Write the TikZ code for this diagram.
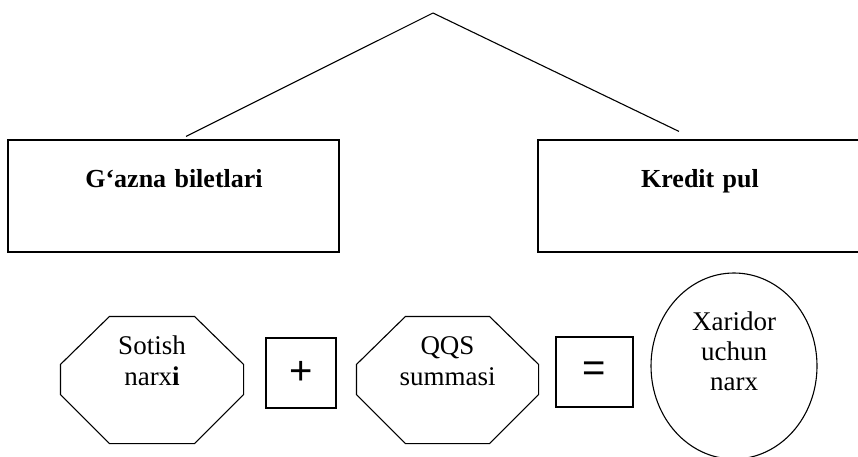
\documentclass[tikz,border=0pt]{standalone}
\usepackage{fontspec}
\setmainfont{Liberation Serif}
\newfontfamily\signfont{Liberation Sans}
\usetikzlibrary{shapes.geometric}

\begin{document}
\begin{tikzpicture}[x=1pt,y=-1pt,line width=1.1pt]
  \clip (0,0) rectangle (858,457);
  \coordinate (top) at (433,13);
  \node[draw, minimum width=331pt, minimum height=112pt] (g) at (173.5,196) {};
  \node[font=\fontsize{26}{30}\selectfont\bfseries, anchor=base] (gt) at (174,187) {G‘azna\hspace{0.32em}biletlari};
  \node[draw, minimum width=324pt, minimum height=112pt] (k) at (700,196) {};
  \node[font=\fontsize{26}{30}\selectfont\bfseries, anchor=base] (kt) at (700,187) {Kredit\hspace{0.32em}pul};

  \draw (top) -- ([xshift=12.5pt,yshift=3pt]g.north);
  \draw (top) -- ([xshift=-21pt,yshift=8pt]k.north);

  \node[minimum width=182pt, minimum height=126pt, inner sep=0pt] (s) at (152,380) {};
  \node[align=center, font=\fontsize{27}{31}\selectfont] (st) at (152,361) {Sotish\\narx\textbf{i}};
  \node[draw, minimum size=70pt, font=\signfont\fontsize{40}{40}\selectfont] (p) at (301,373) {+};
  \node[minimum width=181pt, minimum height=126pt, inner sep=0pt] (q) at (447.5,380) {};
  \node[align=center, font=\fontsize{27}{31}\selectfont] (qt) at (447.5,361) {QQS\\summasi};
  \node[draw, minimum width=77pt, minimum height=70pt, font=\signfont\fontsize{40}{40}\selectfont] (eq) at (594.5,372) {=};
  \node[draw, ellipse, minimum width=166pt, minimum height=186pt, inner sep=0pt] (e) at (734,366) {};
  \node[align=center, font=\fontsize{27}{30}\selectfont] (et) at (734,351) {Xaridor\\uchun\\narx};

  \foreach \n in {s,q}
    \draw ([xshift=49pt]\n.north west) -- ([xshift=-49pt]\n.north east) -- ([yshift=-48pt]\n.north east)
      -- ([yshift=49pt]\n.south east) -- ([xshift=-49pt]\n.south east) -- ([xshift=49pt]\n.south west)
      -- ([yshift=49pt]\n.south west) -- ([yshift=-48pt]\n.north west) -- cycle;
\end{tikzpicture}
\end{document}
